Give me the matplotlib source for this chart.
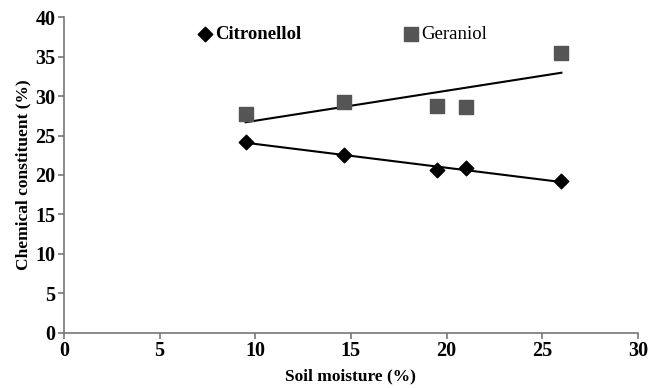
import numpy as np
import matplotlib
matplotlib.use('Agg')
import matplotlib.pyplot as plt

# soil moisture (%)
moisture = [9.5, 14.65, 19.5, 21.0, 26.0]
# chemical constituents (%)
citronellol = [24.2, 22.5, 20.6, 20.9, 19.2]
geraniol = [27.7, 29.2, 28.8, 28.6, 35.5]

plt.rcParams['font.family'] = ['Liberation Serif', 'DejaVu Serif']

fig = plt.figure(figsize=(6.59, 3.88), dpi=100)
ax = fig.add_axes([0.097, 0.142, 0.871, 0.814])

x = np.array(moisture)
ax.scatter(x, citronellol, marker='D', s=55, color='black', zorder=3, label='Citronellol')
ax.scatter(x, geraniol, marker='s', s=110, color='#555555', zorder=3, label='Geraniol')

# linear trend lines
xs = np.array([x.min(), x.max()])
for vals in (citronellol, geraniol):
    k, b = np.polyfit(x, vals, 1)
    ax.plot(xs, k * xs + b, color='black', lw=1.5, zorder=2)

ax.set_xlim(0, 30)
ax.set_ylim(0, 40)
ax.set_xticks(np.arange(0, 31, 5))
ax.set_yticks(np.arange(0, 41, 5))
for s in ['top', 'right']:
    ax.spines[s].set_visible(False)
for s in ['left', 'bottom']:
    ax.spines[s].set_color('#777777')
    ax.spines[s].set_linewidth(1.2)
ax.tick_params(direction='out', length=4, color='#777777', width=1.2,
               labelsize=14.5, pad=2)
for lab in ax.get_xticklabels() + ax.get_yticklabels():
    lab.set_fontweight('bold')

ax.set_xlabel('Soil moisture (%)', fontsize=12.5, fontweight='bold', labelpad=5)
ax.set_ylabel('Chemical constituent (%)', fontsize=12.5, fontweight='bold', labelpad=3)

leg = ax.legend(loc='upper center', bbox_to_anchor=(0.475, 1.02), ncol=2, frameon=False,
                fontsize=13.5, handletextpad=-0.45, columnspacing=4.8, scatterpoints=1,
                borderaxespad=0.4)
leg.get_texts()[0].set_fontweight('bold')

fig.savefig('out.png', dpi=100)
